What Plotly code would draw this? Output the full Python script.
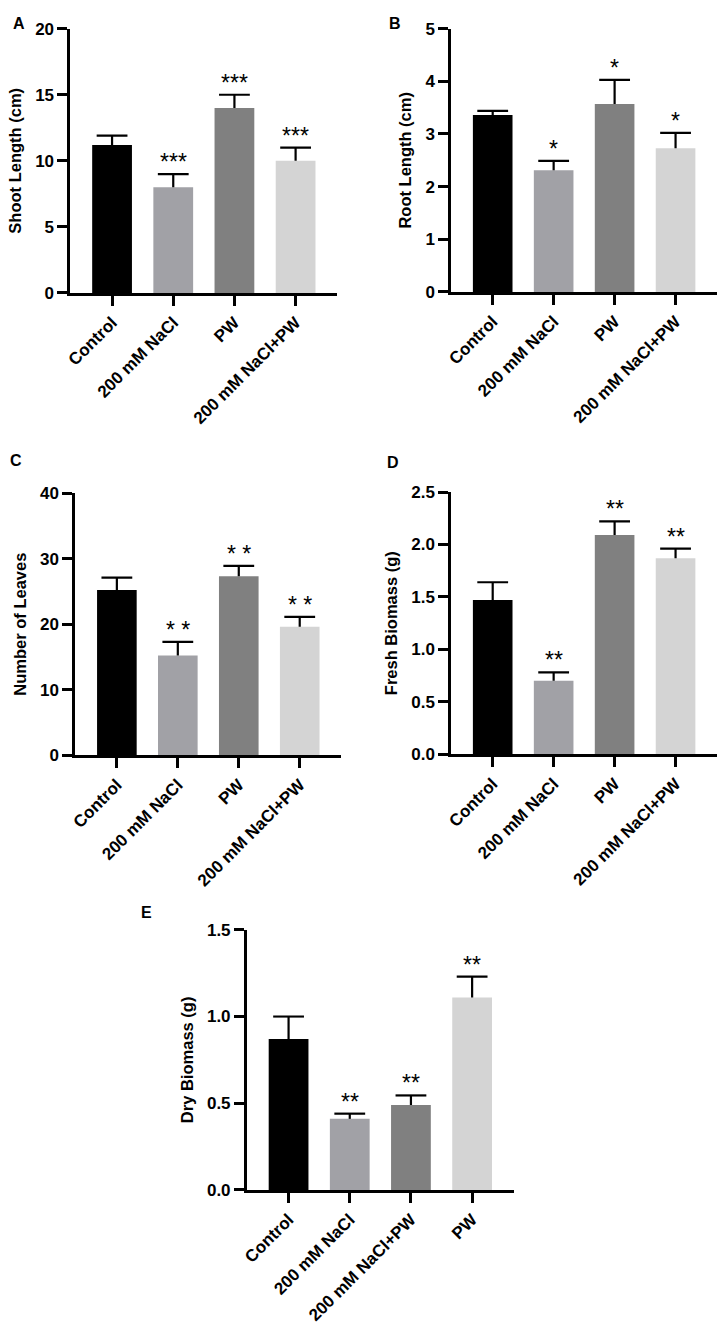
import plotly.graph_objects as go

# treatment groups and bar colours (colour follows bar position)
groups = ['Control', '200 mM NaCl', 'PW', '200 mM NaCl+PW']
groups_e = ['Control', '200 mM NaCl', '200 mM NaCl+PW', 'PW']
bar_colors = ['#000000', '#a1a1a6', '#808080', '#d4d4d4']

# A - shoot length (cm)
shoot_len = [11.2, 8.0, 14.0, 10.0]
shoot_err = [0.7, 1.0, 1.0, 1.0]
shoot_sig = ['', '***', '***', '***']

# B - root length (cm)
root_len = [3.36, 2.31, 3.57, 2.73]
root_err = [0.08, 0.18, 0.46, 0.29]
root_sig = ['', '*', '*', '*']

# C - number of leaves
leaves = [25.2, 15.2, 27.3, 19.6]
leaves_err = [1.9, 2.1, 1.6, 1.5]
leaves_sig = ['', '* *', '* *', '* *']

# D - fresh biomass (g)
fresh = [1.47, 0.70, 2.09, 1.87]
fresh_err = [0.17, 0.08, 0.13, 0.09]
fresh_sig = ['', '**', '**', '**']

# E - dry biomass (g)
dry = [0.87, 0.41, 0.49, 1.11]
dry_err = [0.13, 0.03, 0.055, 0.12]
dry_sig = ['', '**', '**', '**']

W, H = 719, 1339
FONT = 'Arial, Liberation Sans, sans-serif'

# panel: letter, cats, values, errs, sig, y title, y max, dtick, tickformat,
#        pixel box (x0, x1, ytop, ybottom), letter position
panels = [
    ('A', groups, shoot_len, shoot_err, shoot_sig, 'Shoot Length (cm)', 20, 5, 'd', (65, 334, 20, 288), (13, 15)),
    ('B', groups, root_len, root_err, root_sig, 'Root Length (cm)', 5, 1, 'd', (449, 717, 20, 287), (392, 15)),
    ('C', groups, leaves, leaves_err, leaves_sig, 'Number of Leaves', 40, 10, 'd', (70, 338, 491, 757), (10, 458)),
    ('D', groups, fresh, fresh_err, fresh_sig, 'Fresh Biomass (g)', 2.5, 0.5, '.1f', (449, 717, 490, 756), (390, 460)),
    ('E', groups_e, dry, dry_err, dry_sig, 'Dry Biomass (g)', 1.5, 0.5, '.1f', (243, 512, 934, 1198), (142, 916)),
]

fig = go.Figure()
annotations = []
for i, (letter, cats, vals, errs, sig, ytitle, ymax, dtick, tfmt, box, lpos) in enumerate(panels):
    n = '' if i == 0 else str(i + 1)
    xa, ya = 'x' + n, 'y' + n
    # bars with the upper error stem only (no cap, so nothing is drawn on the bar top)
    fig.add_trace(go.Bar(
        x=cats, y=vals, xaxis=xa, yaxis=ya,
        marker=dict(color=bar_colors, line=dict(width=0)),
        width=0.65,
        error_y=dict(type='data', array=errs, arrayminus=[0] * len(errs), symmetric=False,
                     color='black', thickness=2.2, width=0),
        showlegend=False, hoverinfo='skip',
    ))
    # caps at the top of each error bar
    fig.add_trace(go.Scatter(
        x=cats, y=[v + e for v, e in zip(vals, errs)], xaxis=xa, yaxis=ya, mode='markers',
        marker=dict(symbol='line-ew', size=22, line=dict(width=2.2, color='black')),
        showlegend=False, hoverinfo='skip',
    ))
    x0, x1, yt, yb = box
    axis_common = dict(showline=True, linecolor='black', linewidth=3, ticks='outside',
                       ticklen=10, tickwidth=3, tickcolor='black', showgrid=False, zeroline=False)
    fig.update_layout({
        'xaxis' + n: dict(domain=[x0 / W, x1 / W], anchor=ya, range=[-0.68, 3.68],
                          tickangle=-45, tickfont=dict(family=FONT, size=17, color='black', weight='bold'),
                          **axis_common),
        'yaxis' + n: dict(domain=[1 - yb / H, 1 - yt / H], anchor=xa, range=[0, ymax],
                          dtick=dtick, tick0=0, tickformat=tfmt,
                          tickfont=dict(family=FONT, size=17, color='black', weight='bold'),
                          title=dict(text=ytitle, font=dict(family=FONT, size=16.5, color='black', weight='bold'),
                                     standoff=10),
                          **axis_common),
    })
    for c, v, e, s in zip(cats, vals, errs, sig):
        if s:
            annotations.append(dict(x=c, y=v + e, xref=xa, yref=ya, text=s, showarrow=False,
                                    yanchor='bottom', yshift=-3,
                                    font=dict(family=FONT, size=23, color='black')))
    annotations.append(dict(x=lpos[0] / W, y=1 - lpos[1] / H, xref='paper', yref='paper', text=letter,
                            showarrow=False, xanchor='center', yanchor='middle',
                            font=dict(family=FONT, size=16, color='black', weight='bold')))

fig.update_layout(
    width=W, height=H,
    margin=dict(l=0, r=0, t=0, b=0),
    paper_bgcolor='white', plot_bgcolor='white',
    annotations=annotations,
)
# drop the default page margin so the figure sits at the window's corner
fig.write_html("out.html", config={'displayModeBar': False},
               post_script="document.body.style.margin='0';")
